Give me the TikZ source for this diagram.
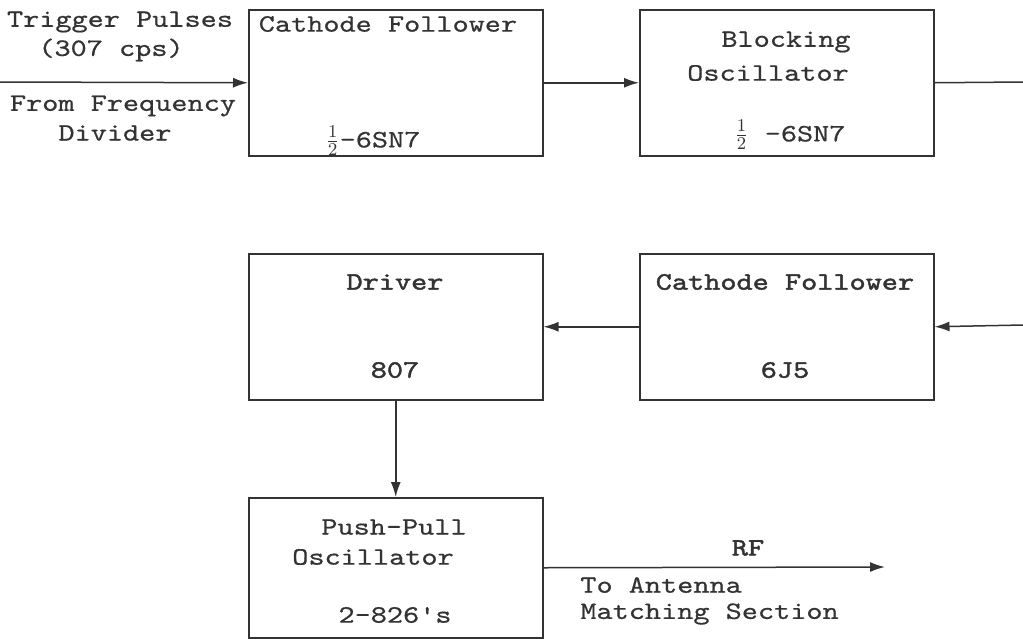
\documentclass[tikz,border=0pt]{standalone}
\usepackage{fontspec}
\usetikzlibrary{arrows.meta}
\newfontfamily\tw{lmmono10-regular.otf}[FakeStretch=1.23,FakeBold=0.6]
\newfontfamily\twb{lmmono10-regular.otf}[FakeStretch=1.23,FakeBold=1.8]
\definecolor{ink}{HTML}{333333}
\begin{document}
\begin{tikzpicture}[x=0.5pt,y=-0.5pt,
  blk/.style={draw=ink, line width=0.75pt, minimum width=147pt, minimum height=73pt, inner sep=0pt, anchor=north west},
  txt/.style={text=ink, font=\tw\fontsize{12.5}{14}\selectfont, inner sep=0pt},
  btxt/.style={text=ink, font=\twb\fontsize{12.5}{14}\selectfont, inner sep=0pt},
  wire/.style={draw=ink, line width=0.75pt},
  arr/.style={wire, -{Latex[length=7.5pt,width=5pt]}}]
\useasboundingbox (0,0) rectangle (1023,638);
% boxes
\node[blk] (b1) at (248,9) {};
\node[blk] (b2) at (639,9) {};
\node[blk] (b3) at (248,253) {};
\node[blk] (b4) at (639,253) {};
\node[blk, minimum height=70pt] (b5) at (248,497) {};
% free ends
\coordinate (inL) at (0,82);
\coordinate (outR) at (1023,82);
\coordinate (inR) at (1023,325);
\coordinate (rfend) at (885,567);
% connectors
\draw[arr] (inL) -- (b1.west);
\draw[arr] (b1.east) -- (b2.west);
\draw[wire] (b2.east) -- (outR);
\draw[arr] (inR) -- (b4.east);
\draw[arr] (b4.west) -- (b3.east);
\draw[arr] (b3.south) -- (b5.north);
\draw[arr] (b5.east) -- (rfend);
% input labels
\node[txt] (l1) at (120,22) {Trigger Pulses};
\node[txt] (l2) at (111,50) {(307 cps)};
\node[txt] (l3) at (123,106) {From Frequency};
\node[txt] (l4) at (115,133) {Divider};
% box 1
\node[txt] (t1a) at (388,24) {Cathode Follower};
\node[txt] (t1b) at (373,141) {\(\frac{1}{2}\)-6SN7};
% box 2
\node[txt] (t2a) at (786,42) {Blocking};
\node[txt] (t2b) at (768,73) {Oscillator};
\node[txt] (t2c) at (790,135) {\(\frac{1}{2}\) -6SN7};
% box 3
\node[btxt] (t3a) at (395,282) {Driver};
\node[btxt] (t3b) at (395,370) {807};
% box 4
\node[btxt] (t4a) at (785,282) {Cathode Follower};
\node[btxt] (t4b) at (785,370) {6J5};
% box 5
\node[txt] (t5a) at (394,527) {Push-Pull};
\node[txt] (t5b) at (373,557) {Oscillator};
\node[txt] (t5c) at (395,615) {2-826's};
% output labels
\node[btxt] (rf) at (748,548) {RF};
\node[txt, anchor=west] (o1) at (580,585) {To Antenna};
\node[txt, anchor=west] (o2) at (580,614) {Matching Section};
\end{tikzpicture}
\end{document}
